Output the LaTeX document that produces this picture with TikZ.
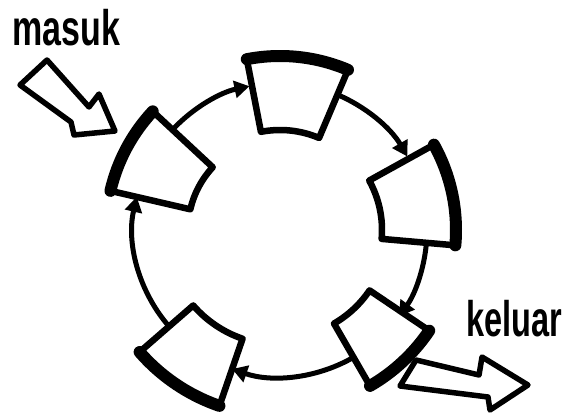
\documentclass[tikz,border=0pt]{standalone}
\usepackage{fontspec}
\setmainfont{Liberation Sans}
\usetikzlibrary{arrows.meta, positioning}
\tikzset{
  blok/.style     = {draw=black, line width=6.5pt, fill=white, line join=round},
  bloktepi/.style = {draw=black, line width=12pt, line cap=round},
  alir/.style     = {draw=black, line width=5pt,
                     -{Triangle[length=15pt, width=17pt]}},
  panah/.style    = {draw=black, line width=5.5pt, fill=white, line join=round},
  lbl/.style      = {font=\fontsize{50}{50}\selectfont\bfseries, inner sep=0pt},
}

\begin{document}
\begin{tikzpicture}[x=1pt, y=-1pt]
  \useasboundingbox (0,0) rectangle (581,420);
  \coordinate (pusat) at (280,230);
  % aliran searah jarum jam
  \foreach \a/\b in {224/258, 292/330, 364/396, 421/469, 500/553}
    \draw[alir] (pusat) ++(\a:147) arc[start angle=\a, end angle=\b, radius=147];
  % lima blok di sepanjang lingkaran
  \foreach \n/\a/\s/\ri/\ro in {kiri/208/15/92/174, atas/276/17/100/174,
                                kanan/348/17/102/176, kanbaw/47/13/108/180,
                                kirbaw/124/15/115/186}{
    \draw[blok] (pusat) ++({\a-\s}:\ri)
      arc[start angle={\a-\s}, end angle={\a+\s}, radius=\ri]
      -- ++({\a+\s}:{\ro-\ri})
      arc[start angle={\a+\s}, end angle={\a-\s}, radius=\ro] -- cycle;
    \draw[bloktepi] (pusat) ++({\a-\s}:\ro) coordinate (\n)
      arc[start angle={\a-\s}, end angle={\a+\s}, radius=\ro];
  }
  % masuk / keluar
  \node[lbl, anchor=base west] (masuk) at (12,46) {\scalebox{0.68}[1]{masuk}};
  \node[lbl, anchor=base west] (keluar) at (466,336) {\scalebox{0.65}[1]{keluar}};
  \draw[panah] (20,85) -- (47,60) -- (89,107) -- (99,94) -- (115,131)
    -- (74,135) -- (71,122) -- cycle;
  \draw[panah] (400,386) -- (416,360) -- (479,375) -- (482,357) -- (528,385)
    -- (490,410) -- (488,397) -- cycle;
\end{tikzpicture}
\end{document}
